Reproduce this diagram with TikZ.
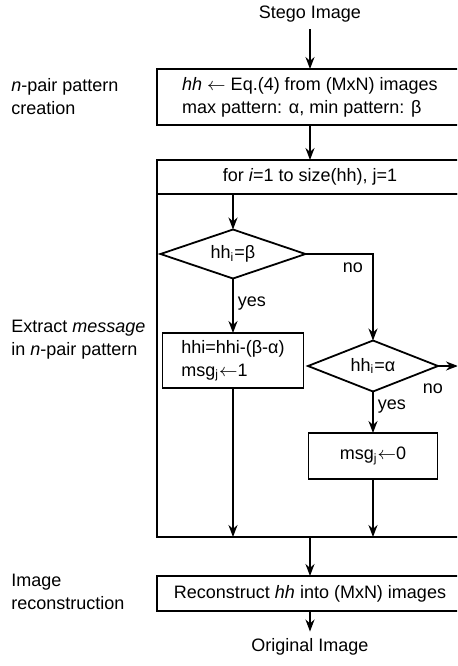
\documentclass[tikz,border=0pt]{standalone}
\usepackage{fontspec}
\setmainfont{Liberation Sans}
\usepackage{amsmath}
\usepackage{tikz}
\usetikzlibrary{arrows.meta}
\usetikzlibrary{shapes.geometric}

\begin{document}
\begin{tikzpicture}[x=0.5pt,y=-0.5pt,
			font=\fontsize{9}{11.5}\selectfont,
			box/.style={draw,line width=0.9pt,rectangle,inner sep=2pt,outer sep=0pt},
			decision/.style={draw,line width=0.9pt,diamond,aspect=3,inner sep=0pt,outer sep=0pt},
			flow/.style={-{Stealth[length=6pt,width=4.5pt]},line width=0.9pt},
			side/.style={anchor=west,align=left,inner sep=0pt}]
			\clip (0,0) rectangle (457,666);
			
			\node (stego) at (310,14) {Stego Image};
			\node[box,align=left,minimum width=153pt,minimum height=28pt] (create) at (310,97) {\textit{hh} $\leftarrow$ Eq.(4) from (MxN) images\\max pattern: α, min pattern: β};
			\node[box,minimum width=153pt,minimum height=17pt] (loop) at (310,177) {for \textit{i}=1 to size(hh), j=1};
			\node[box,minimum width=153pt,minimum height=171.5pt,anchor=north] (body) at (loop.south) {};
			\node[decision,minimum width=72.5pt,minimum height=24.5pt] (beta) at (233,254) {hh\textsubscript{i}=β};
			\node[box,align=left,minimum width=70.5pt,minimum height=27.5pt] (minus) at (233,360.5) {hhi=hhi-(β-α)\\msg\textsubscript{j}$\leftarrow$1};
			\node[decision,minimum width=65pt,minimum height=25.5pt] (alpha) at (373,366) {hh\textsubscript{i}=α};
			\node[box,minimum width=64.5pt,minimum height=23pt] (zero) at (373,456) {msg\textsubscript{j}$\leftarrow$0};
			\node[box,minimum width=153pt,minimum height=17.5pt] (recon) at (310,593.5) {Reconstruct \textit{hh} into (MxN) images};
			\node (orig) at (310,647) {Original Image};
			\coordinate (exit) at (458,366);
			
			% stage labels on the left
			\node[side] (lblcreate) at (11,96.5) {\textit{n}-pair pattern\\creation};
			\node[side] (lblextract) at (11,340) {Extract \textit{message}\\in \textit{n}-pair pattern};
			\node[side] (lblrecon) at (11,591.5) {Image\\reconstruction};
			
			\draw[flow] (stego) -- (create);
			\draw[flow] (create) -- (loop);
			\draw[flow] (beta.north |- loop.south) -- (beta);
			\draw[flow] (beta) -- node[right,inner sep=2pt,pos=0.45] {yes} (minus);
			\draw[flow] (beta.east) -| node[pos=0.5,xshift=-10pt,yshift=-7pt] {no} (alpha.north);
			\draw[flow] (alpha) -- node[right,inner sep=2pt,pos=0.35] {yes} (zero);
			\draw[flow] (alpha.east) -- node[pos=0,anchor=north,xshift=-2.5pt,yshift=-5pt] {no} (exit);
			\draw[flow] (minus) -- (minus |- body.south);
			\draw[flow] (zero) -- (zero |- body.south);
			\draw[flow] (body) -- (recon);
			\draw[flow] (recon) -- (orig);
		\end{tikzpicture}
\end{document}
